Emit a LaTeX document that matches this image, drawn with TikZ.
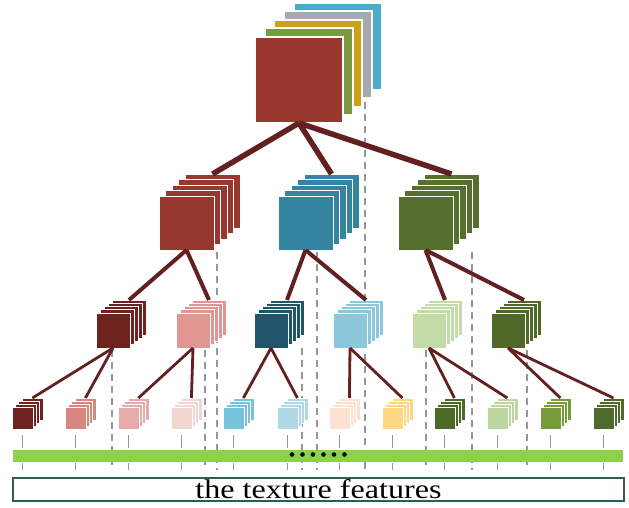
\documentclass[tikz,border=0pt]{standalone}
\usepackage{fontspec}
\setmainfont{Liberation Serif}
\definecolor{cTopRed}{RGB}{152,56,46}
\definecolor{cTopGreen}{RGB}{122,152,62}
\definecolor{cTopYellow}{RGB}{204,160,24}
\definecolor{cTopGray}{RGB}{168,168,178}
\definecolor{cTopBlue}{RGB}{76,172,202}
\definecolor{cRed}{RGB}{150,56,46}
\definecolor{cBlue}{RGB}{52,132,162}
\definecolor{cGreen}{RGB}{86,110,46}
\definecolor{cA}{RGB}{110,35,30}
\definecolor{cB}{RGB}{225,150,145}
\definecolor{cC}{RGB}{30,85,105}
\definecolor{cD}{RGB}{140,200,220}
\definecolor{cE}{RGB}{195,220,165}
\definecolor{cF}{RGB}{80,105,40}
\definecolor{d1}{RGB}{110,35,35}
\definecolor{d2}{RGB}{215,135,125}
\definecolor{d3}{RGB}{230,170,170}
\definecolor{d4}{RGB}{240,215,210}
\definecolor{d5}{RGB}{120,195,220}
\definecolor{d6}{RGB}{175,215,230}
\definecolor{d7}{RGB}{253,225,210}
\definecolor{d8}{RGB}{253,215,130}
\definecolor{d9}{RGB}{75,105,40}
\definecolor{d10}{RGB}{190,215,160}
\definecolor{d11}{RGB}{120,155,60}
\definecolor{d12}{RGB}{80,105,45}
\definecolor{conncol}{RGB}{98,32,32}
\definecolor{dashgray}{RGB}{150,150,160}
\definecolor{barcol}{RGB}{140,210,72}
\definecolor{boxcol}{RGB}{46,92,92}
\tikzset{
  layer/.style={draw=white, line width=0.7pt, inner sep=0pt, outer sep=0pt, anchor=north west},
  toplayer/.style={layer, line width=1.4pt, minimum width=88pt, minimum height=87pt},
  connA/.style={draw=conncol, line width=5.5pt},
  connB/.style={draw=conncol, line width=4pt},
  connC/.style={draw=conncol, line width=2.8pt},
  guide/.style={draw=dashgray, line width=1.3pt, dash pattern=on 7pt off 5pt},
  tick/.style={draw=dashgray, line width=1.3pt},
  textbox/.style={draw=boxcol, line width=2pt, fill=white, inner sep=0pt, anchor=north west,
    minimum width=611pt, minimum height=23pt, font=\fontsize{27}{30}\selectfont}
}
\newcommand{\mystack}[9]{%
  \foreach \i in {#6,...,1}{%
    \node[layer, fill=#9, minimum width=#4pt, minimum height=#5pt] (#1L\i) at ({#2+\i*#7},{#3-\i*#8}) {};
  }%
  \node[layer, fill=#9, minimum width=#4pt, minimum height=#5pt] (#1) at (#2,#3) {};
}
\begin{document}
\begin{tikzpicture}[x=1pt,y=-1pt]
\useasboundingbox (0,0) rectangle (629,508);
% guide dashed lines
\foreach \gx/\gy in {112/350,205/350,217/252,302/348,317/252,365/102,426/350,472/252,527/350}{
  \draw[guide] (\gx,\gy) -- (\gx,470);
}
% top stack
\node[toplayer, fill=cTopBlue] (topL4) at (294,3) {};
\node[toplayer, fill=cTopGray] (topL3) at (284,11) {};
\node[toplayer, fill=cTopYellow] (topL2) at (274,20) {};
\node[toplayer, fill=cTopGreen] (topL1) at (265,28) {};
\node[toplayer, fill=cTopRed, minimum height=86pt] (top) at (255,37) {};
% level 2
\mystack{two1}{159}{196}{55}{54}{4}{6.5}{5.5}{cRed}
\mystack{two2}{278}{196}{55}{54}{4}{6.5}{5.5}{cBlue}
\mystack{two3}{398}{196}{55}{54}{4}{6.5}{5.5}{cGreen}
% level 3
\mystack{three1}{96}{313}{34}{35}{4}{4}{3.25}{cA}
\mystack{three2}{176}{313}{34}{35}{4}{4}{3.25}{cB}
\mystack{three3}{254}{313}{34}{35}{4}{4}{3.25}{cC}
\mystack{three4}{333}{313}{34}{35}{4}{4}{3.25}{cD}
\mystack{three5}{412}{313}{34}{35}{4}{4}{3.25}{cE}
\mystack{three6}{491}{313}{34}{35}{4}{4}{3.25}{cF}
% level 4
\foreach \k/\fx in {1/12,2/65,3/118,4/171,5/223,6/277,7/329,8/382,9/434,10/487,11/540,12/593}{
  \mystack{four\k}{\fx}{407}{21}{22}{3}{3.3}{3}{d\k}
}
% ticks under level 4
\foreach \k in {1,...,12}{
  \draw[tick] ([yshift=-6pt]four\k.south) -- ([yshift=-19pt]four\k.south);
  \draw[tick] ([yshift=-34pt]four\k.south) -- ([yshift=-41pt]four\k.south);
}
% bar
\fill[barcol] (13,450) rectangle (623,462);
\foreach \j in {0,...,5}{
  \fill[black] ({292+10.5*\j},454.5) circle (2.3);
}
% connectors
\draw[connA] (top.south) -- (two1L4.north);
\draw[connA] (top.south) -- (two2L4.north);
\draw[connA] (top.south) -- (two3L4.north);
\draw[connB] (two1.south) -- (three1L4.north);
\draw[connB] (two1.south) -- (three2L4.north);
\draw[connB] (two2.south) -- (three3L4.north);
\draw[connB] (two2.south) -- (three4L4.north);
\draw[connB] (two3.south) -- (three5L4.north);
\draw[connB] (two3.south) -- (three6L4.north);
\draw[connC] (three1.south) -- (four1L3.north);
\draw[connC] (three1.south) -- (four2L3.north);
\draw[connC] (three2.south) -- (four3L3.north);
\draw[connC] (three2.south) -- (four4L3.north);
\draw[connC] (three3.south) -- (four5L3.north);
\draw[connC] (three3.south) -- (four6L3.north);
\draw[connC] (three4.south) -- (four7L3.north);
\draw[connC] (three4.south) -- (four8L3.north);
\draw[connC] (three5.south) -- (four9L3.north);
\draw[connC] (three5.south) -- (four10L3.north);
\draw[connC] (three6.south) -- (four11L3.north);
\draw[connC] (three6.south) -- (four12L3.north);
% text box
\node[textbox] (label) at (12,477) {\scalebox{1.19}[1]{the texture features}};
\end{tikzpicture}
\end{document}
